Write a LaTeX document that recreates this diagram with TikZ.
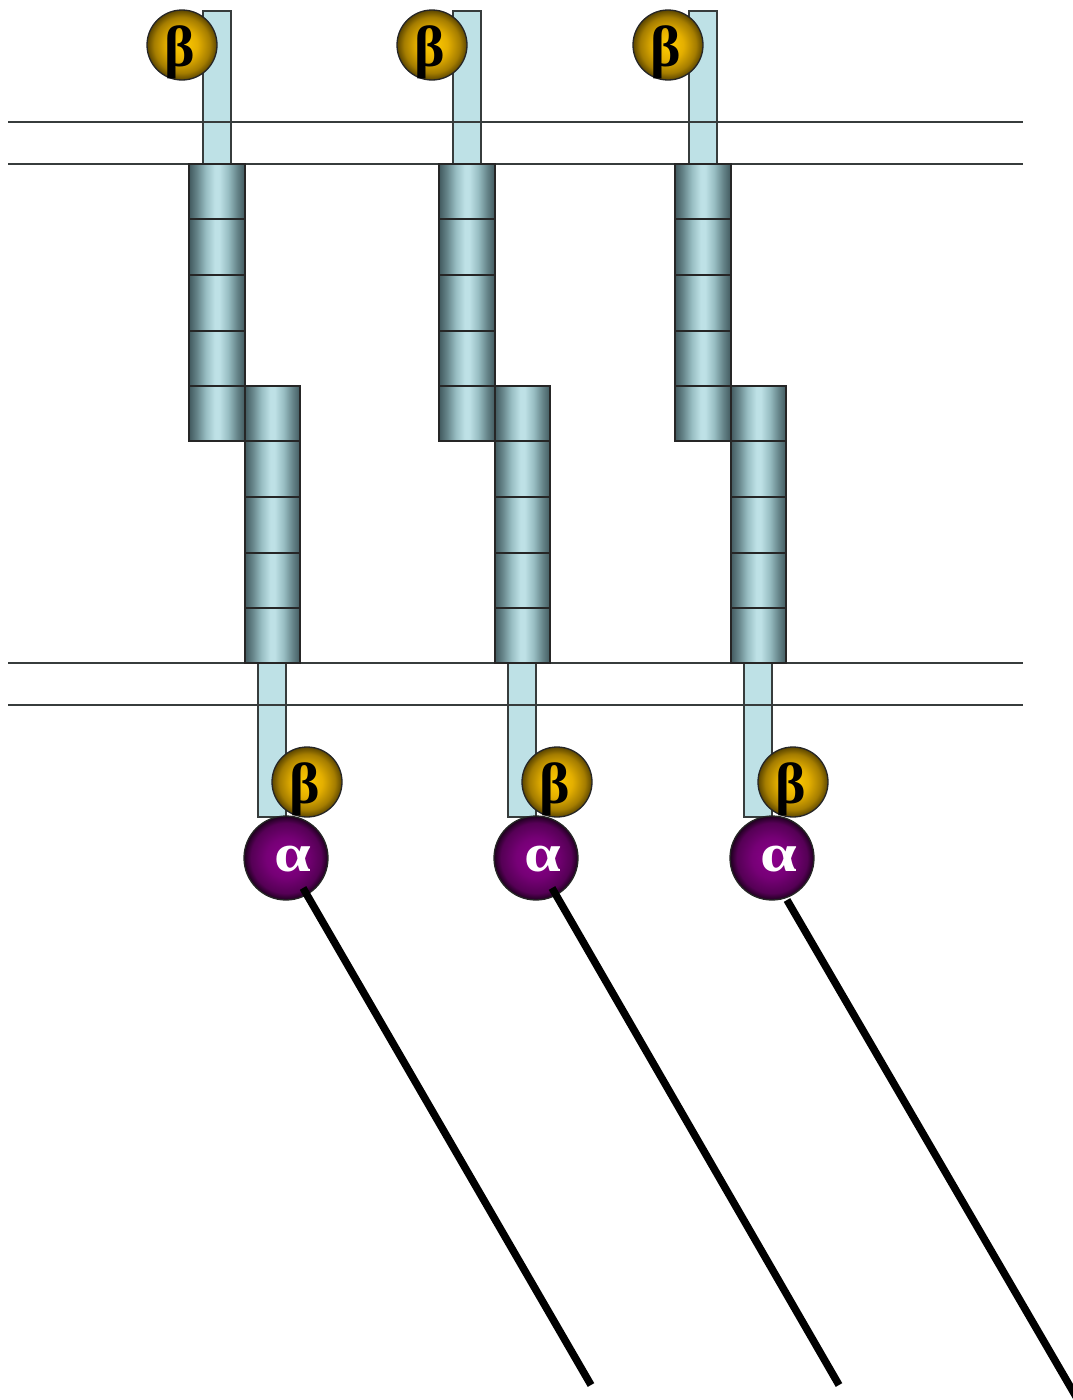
\documentclass[tikz,border=0pt]{standalone}
\usepackage{graphicx}
\usepackage{fontspec}
\setmainfont{Liberation Serif}
\definecolor{rodfill}{RGB}{190,225,230}
\definecolor{segA}{RGB}{66,90,95}
\definecolor{segB}{RGB}{102,133,138}
\definecolor{segC}{RGB}{152,190,195}
\definecolor{linegray}{RGB}{55,60,60}
\definecolor{bA}{RGB}{255,204,0}
\definecolor{bB}{RGB}{228,175,0}
\definecolor{bC}{RGB}{165,125,0}
\definecolor{bD}{RGB}{92,70,0}
\definecolor{aA}{RGB}{140,0,140}
\definecolor{aB}{RGB}{118,0,118}
\definecolor{aC}{RGB}{85,0,85}
\definecolor{aD}{RGB}{30,0,30}
\pgfdeclareradialshading{betashade}{\pgfpoint{0bp}{0bp}}{color(0bp)=(bA);color(11bp)=(bB);color(20bp)=(bC);color(25bp)=(bD);color(50bp)=(bD)}
\pgfdeclareradialshading{alphashade}{\pgfpoint{0bp}{0bp}}{color(0bp)=(aA);color(12bp)=(aB);color(21bp)=(aC);color(25bp)=(aD);color(50bp)=(aD)}
\pgfdeclarehorizontalshading{segshade}{100bp}{color(0bp)=(segA);color(25bp)=(segA);color(32bp)=(segB);color(40bp)=(segC);color(48bp)=(rodfill);color(52bp)=(rodfill);color(60bp)=(segC);color(68bp)=(segB);color(75bp)=(segA);color(100bp)=(segA)}
\tikzset{
  membrane/.style={draw=linegray,line width=1.2pt},
  rodbox/.style={draw=linegray,line width=1.2pt,fill=rodfill,minimum width=28pt,inner sep=0pt,outer sep=0pt},
  segbox/.style={draw=black!85,line width=1.7pt,shading=segshade,minimum width=55.5pt,inner sep=0pt,outer sep=0pt},
  betaball/.style={circle,draw=black!85,line width=1.3pt,shading=betashade,minimum size=70pt,inner sep=0pt,outer sep=0pt,text=black,font=\bfseries\fontsize{58}{58}\selectfont},
  alphaball/.style={circle,draw=black!85,line width=1.3pt,shading=alphashade,minimum size=84pt,inner sep=0pt,outer sep=0pt,text=white,font=\bfseries\fontsize{54}{54}\selectfont},
  tail/.style={draw=black,line width=7.5pt}
}
\begin{document}
\begin{tikzpicture}[x=1pt,y=-1pt]
\useasboundingbox (0,0) rectangle (1073,1400);
\clip (0,0) rectangle (1073,1400);
% rods
\foreach \n/\d in {1/0,2/250,3/486}{
  \node[rodbox,minimum height=153pt] (rodtop\n) at (217+\d,87.5) {};
  \node[rodbox,minimum height=154pt] (rodbot\n) at (272+\d,740) {};
}
% membranes
\coordinate (mAl) at (8,122); \coordinate (mAr) at (1023,122);
\coordinate (mBl) at (8,164); \coordinate (mBr) at (1023,164);
\coordinate (mCl) at (8,663); \coordinate (mCr) at (1023,663);
\coordinate (mDl) at (8,705); \coordinate (mDr) at (1023,705);
\draw[membrane] (mAl) -- (mAr);
\draw[membrane] (mBl) -- (mBr);
\draw[membrane] (mCl) -- (mCr);
\draw[membrane] (mDl) -- (mDr);
% repeats
\foreach \n/\d in {1/0,2/250,3/486}{
  \foreach \k/\y/\h in {1/191.5/55,2/247/56,3/303/56,4/358.5/55,5/413.5/55}{
    \node[segbox,minimum height=\h pt] (up\n\k) at (217+\d,\y) {};
  }
  \foreach \k/\y/\h in {1/413.5/55,2/469/56,3/525/56,4/580.5/55,5/635.5/55}{
    \node[segbox,minimum height=\h pt] (lo\n\k) at (272.5+\d,\y) {};
  }
}
\foreach \n/\d in {1/0,2/250,3/486}{
  \node[alphaball] (alpha\n) at (286+\d,858) {\hspace*{13pt}\raisebox{-13pt}[0pt][0pt]{\scalebox{1.22}[1]{α}}};
  \node[betaball] (betatop\n) at (182+\d,45) {\raisebox{-21pt}[0pt][0pt]{β}\hspace*{4pt}};
  \node[betaball] (betabot\n) at (307+\d,782) {\raisebox{-21pt}[0pt][0pt]{β}\hspace*{4pt}};
}
\coordinate (s1) at (303,888); \coordinate (e1) at (591,1385);
\coordinate (s2) at (552,888); \coordinate (e2) at (839,1385);
\coordinate (e3) at (1078,1400);
\draw[tail] (s1) -- (e1);
\draw[tail] (s2) -- (e2);
\draw[tail] (alpha3) ++(15,42) -- (e3);
\end{tikzpicture}
\end{document}
